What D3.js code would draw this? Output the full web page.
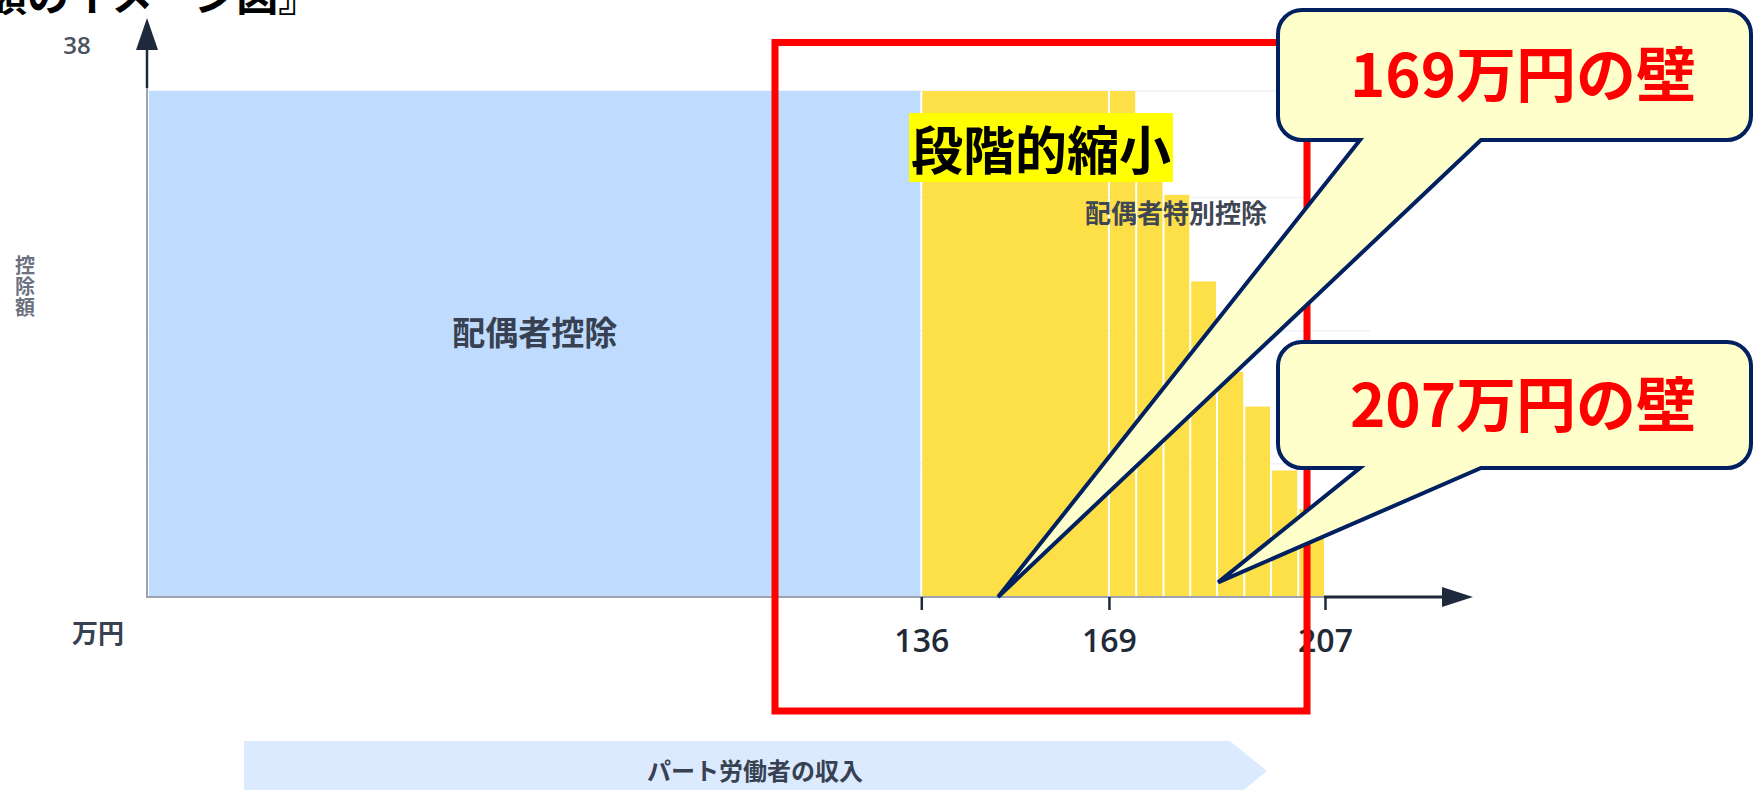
<!DOCTYPE html>
<html>
<head>
<meta charset="utf-8">
<script src="https://cdn.jsdelivr.net/npm/d3@7"></script>
<style>
  body { margin: 0; background: #fff; }
  svg { display: block; font-family: "Noto Sans CJK JP", "Noto Sans", sans-serif; }
</style>
</head>
<body>
<svg id="chart" width="1753" height="790"></svg>
<script>

// income brackets (万円) and deduction amount (万円)
var bandFrom  = [0,   136, 169, 173.8, 178.6, 183.3, 188,  192.8, 197.5, 202.3];
var bandTo    = [136, 169, 173.8, 178.6, 183.3, 188, 192.8, 197.5, 202.3, 207];
var deduction = [38,  38,  38,  34,    30.2,  23.7,  16.9, 14.3,  9.5,   6.6];
var bandKind  = ['base', 'special', 'special', 'special', 'special',
                 'special', 'special', 'special', 'special', 'special'];

var xTicks = [136, 169, 207];
var yTopValue = 38;
var gridValues = [10, 20, 30, 38];

var walls = ['169万円の壁', '207万円の壁'];
var wallTips = [[149.5, 0], [188.2, 1.1]];

var svg = d3.select('#chart');

var x = d3.scaleLinear().domain([0, 207]).range([148, 1325]);
var y = d3.scaleLinear().domain([0, 38]).range([597, 91]);

var dark = '#1e293b';
var axisGray = '#9ca3af';
var textGray = '#374151';

// title (cut off at the top of the picture)
svg.append('text')
  .attr('x', -15)
  .attr('y', 11)
  .attr('font-size', 42)
  .attr('font-weight', 700)
  .attr('fill', '#000')
  .text('額のイメージ図』');

// faint grid
svg.append('g').selectAll('line')
  .data(gridValues)
  .enter().append('line')
  .attr('x1', x(0)).attr('x2', x(215))
  .attr('y1', function(d) { return y(d); })
  .attr('y2', function(d) { return y(d); })
  .attr('stroke', '#edf2f9')
  .attr('stroke-width', 1.5);

var bands = bandFrom.map(function(f, i) {
  return { from: f, to: bandTo[i], value: deduction[i], kind: bandKind[i] };
});

svg.append('g').selectAll('rect')
  .data(bands)
  .enter().append('rect')
  .attr('x', function(d) { return x(d.from) + 1; })
  .attr('width', function(d) { return x(d.to) - x(d.from) - 2; })
  .attr('y', function(d) { return y(d.value); })
  .attr('height', function(d) { return y(0) - y(d.value); })
  .attr('fill', function(d) { return d.kind === 'base' ? '#bfdbfe' : '#fddf47'; });

// bar labels
svg.append('text')
  .attr('x', x((bandFrom[0] + bandTo[0]) / 2))
  .attr('y', y(18.9))
  .attr('text-anchor', 'middle')
  .attr('font-size', 33)
  .attr('font-weight', 600)
  .attr('fill', textGray)
  .text('配偶者控除');

svg.append('text')
  .attr('x', x(180.8))
  .attr('y', y(28.1))
  .attr('text-anchor', 'middle')
  .attr('font-size', 26)
  .attr('font-weight', 600)
  .attr('fill', '#3f4654')
  .text('配偶者特別控除');

// y axis
svg.append('line')
  .attr('x1', x(0) - 1).attr('x2', x(0) - 1)
  .attr('y1', y(yTopValue) - 3).attr('y2', y(0) + 1)
  .attr('stroke', axisGray).attr('stroke-width', 2);

svg.append('line')
  .attr('x1', x(0) - 1).attr('x2', x(0) - 1)
  .attr('y1', y(yTopValue) - 3).attr('y2', 45)
  .attr('stroke', dark).attr('stroke-width', 2.5);

svg.append('path')
  .attr('d', 'M' + (x(0) - 1) + ',18 L' + (x(0) - 12) + ',50 L' + (x(0) + 10) + ',50 Z')
  .attr('fill', dark);

svg.append('text')
  .attr('x', 77)
  .attr('y', y(yTopValue) - 37)
  .attr('text-anchor', 'middle')
  .attr('font-family', '"Open Sans", "Noto Sans", sans-serif')
  .attr('font-size', 24)
  .attr('font-weight', 600)
  .attr('fill', '#4b5260')
  .text(yTopValue);

svg.append('text')
  .attr('x', 25)
  .attr('y', 255)
  .attr('font-size', 20)
  .attr('font-weight', 600)
  .attr('fill', '#6b7280')
  .attr('letter-spacing', 1)
  .style('writing-mode', 'vertical-rl')
  .text('控除額');

// x axis
svg.append('line')
  .attr('x1', x(0) - 2).attr('x2', x(207))
  .attr('y1', y(0)).attr('y2', y(0))
  .attr('stroke', axisGray).attr('stroke-width', 2);

svg.append('line')
  .attr('x1', x(207) - 1).attr('x2', 1450)
  .attr('y1', y(0)).attr('y2', y(0))
  .attr('stroke', dark).attr('stroke-width', 3);

svg.append('path')
  .attr('d', 'M1473,' + y(0) + ' L1442,' + (y(0) - 10) + ' L1442,' + (y(0) + 10) + ' Z')
  .attr('fill', dark);

var xAxis = d3.axisBottom(x).tickValues(xTicks).tickSize(13).tickSizeOuter(0);
var gx = svg.append('g')
  .attr('transform', 'translate(0,' + y(0) + ')')
  .call(xAxis);
gx.attr('font-family', null).attr('font-size', null);
gx.select('.domain').remove();
gx.selectAll('.tick line').attr('stroke', dark).attr('stroke-width', 2.5);
gx.selectAll('.tick text')
  .attr('y', 55)
  .attr('dy', null)
  .attr('fill', '#1f2937')
  .style('font-family', '"Open Sans", "Noto Sans", sans-serif')
  .style('font-size', '32px')
  .style('font-weight', 600);

svg.append('text')
  .attr('x', 98)
  .attr('y', 643)
  .attr('text-anchor', 'middle')
  .attr('font-size', 26)
  .attr('font-weight', 700)
  .attr('fill', textGray)
  .text('万円');

// highlight frame
svg.append('rect')
  .attr('x', 775).attr('y', 42.5)
  .attr('width', 532).attr('height', 668.5)
  .attr('fill', 'none')
  .attr('stroke', '#ff0000')
  .attr('stroke-width', 7);

svg.append('rect')
  .attr('x', 909).attr('y', 113)
  .attr('width', 264).attr('height', 69)
  .attr('fill', '#ffff00');

svg.append('text')
  .attr('x', 1041)
  .attr('y', 170)
  .attr('text-anchor', 'middle')
  .attr('font-size', 52)
  .attr('font-weight', 700)
  .attr('fill', '#000')
  .text('段階的縮小');

// callouts
function callout(x0, y0, x1, y1, r, b0, b1, tx, ty) {
  var p = d3.path();
  p.moveTo(x0 + r, y0);
  p.lineTo(x1 - r, y0);
  p.arcTo(x1, y0, x1, y0 + r, r);
  p.lineTo(x1, y1 - r);
  p.arcTo(x1, y1, x1 - r, y1, r);
  p.lineTo(b1, y1);
  p.lineTo(tx, ty);
  p.lineTo(b0, y1);
  p.lineTo(x0 + r, y1);
  p.arcTo(x0, y1, x0, y1 - r, r);
  p.lineTo(x0, y0 + r);
  p.arcTo(x0, y0, x0 + r, y0, r);
  p.closePath();
  return p.toString();
}

var boxes = [{ top: 10, bottom: 140 }, { top: 342, bottom: 468 }];

boxes.forEach(function(b, i) {
  var tip = wallTips[i];
  svg.append('path')
    .attr('d', callout(1278, b.top, 1751, b.bottom, 24, 1360, 1481, x(tip[0]), y(tip[1])))
    .attr('fill', '#ffffcc')
    .attr('stroke', '#002060')
    .attr('stroke-width', 4);

  svg.append('text')
    .attr('x', 1523)
    .attr('y', (b.top + b.bottom) / 2 + 22)
    .attr('text-anchor', 'middle')
    .attr('font-size', 60)
    .attr('font-weight', 700)
    .attr('fill', '#ff0000')
    .text(walls[i]);
});

// income banner
svg.append('path')
  .attr('d', 'M244,741 L1230,741 L1267,771 L1230,801 L244,801 Z')
  .attr('fill', '#dbeafe');

svg.append('text')
  .attr('x', 755)
  .attr('y', 780)
  .attr('text-anchor', 'middle')
  .attr('font-size', 24)
  .attr('font-weight', 600)
  .attr('fill', textGray)
  .text('パート労働者の収入');

</script>
</body>
</html>
